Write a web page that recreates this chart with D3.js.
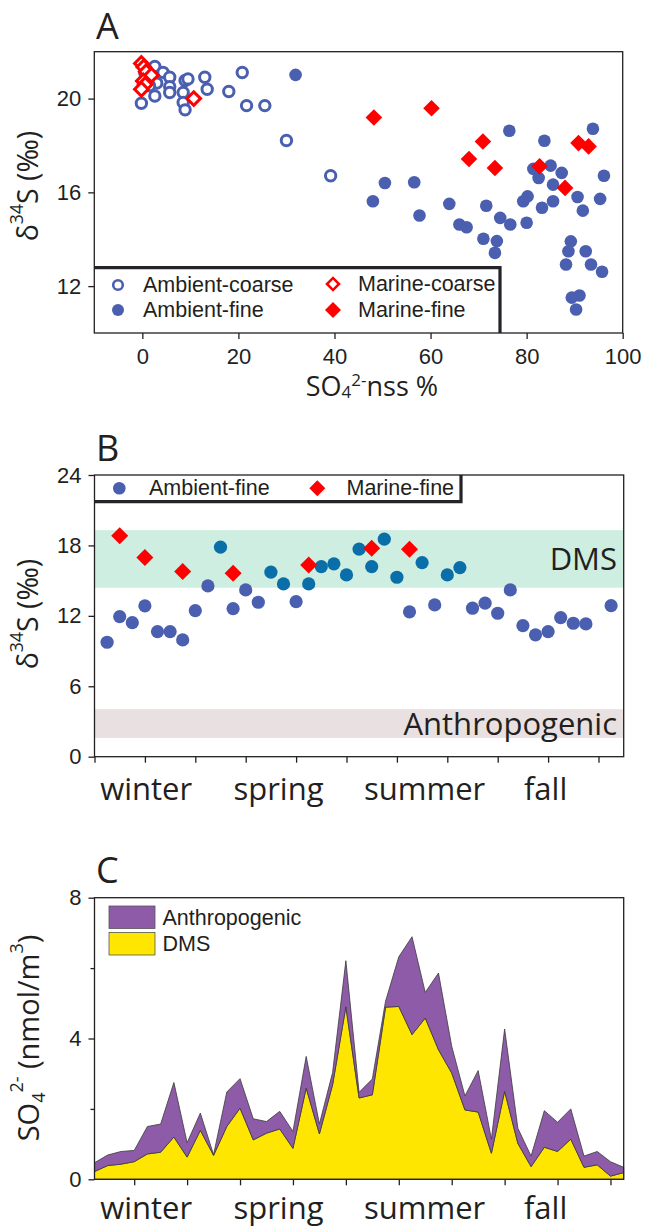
<!DOCTYPE html>
<html>
<head>
<meta charset="utf-8">
<script src="https://cdn.jsdelivr.net/npm/d3@7"></script>
<style>
  body { margin: 0; background: #fff; }
</style>
</head>
<body>
<script>
// ---- panel A : d34S vs nss-sulfate fraction ----
const ambientCoarse = [[2.6, 21.37], [4.3, 21.12], [5.7, 20.91], [3.0, 20.66], [5.7, 20.51], [2.6, 20.11], [5.7, 20.26],
  [-0.2, 19.8], [8.9, 20.77], [9.5, 20.84], [8.5, 20.26], [8.5, 19.83], [8.9, 19.52], [13.0, 20.91], [13.5, 20.4],
  [18.0, 20.3], [20.8, 21.11], [21.7, 19.7], [25.5, 19.7], [30.0, 18.21], [39.2, 16.71], [0.8, 20.9], [1.5, 20.55], [0.5, 21.1]];
const ambientFine = [[50.5, 16.4], [48.0, 15.62], [56.6, 16.43], [57.7, 15.01], [63.9, 15.51], [66.0, 14.63], [67.5, 14.51],
  [71.6, 15.43], [74.5, 14.91], [76.6, 14.63], [76.4, 18.63], [71.0, 14.02], [73.8, 13.92], [73.4, 13.42], [80.0, 14.7],
  [79.3, 15.62], [80.2, 15.83], [83.2, 15.34], [85.5, 15.62], [85.5, 16.33], [83.7, 18.2], [81.4, 17.0], [82.5, 16.61],
  [85.0, 17.14], [87.3, 16.83], [90.6, 15.8], [91.7, 15.22], [93.8, 18.71], [96.1, 16.71], [95.3, 15.72], [89.2, 13.91],
  [88.7, 13.49], [88.2, 12.92], [92.3, 13.49], [93.4, 12.92], [95.7, 12.61], [89.4, 11.51], [91.0, 11.6], [90.3, 11.0],
  [31.9, 21.01]];
const marineCoarse = [[-0.2, 21.5], [0.3, 21.35], [0.8, 21.15], [1.9, 21.0], [0.2, 20.75], [0.6, 20.6], [-0.2, 20.4], [10.7, 20.0]];
const marineFine = [[48.2, 19.19], [60.2, 19.59], [70.9, 18.17], [68.0, 17.42], [73.4, 17.04], [82.7, 17.11], [88.0, 16.19],
  [90.8, 18.1], [92.9, 17.96]];
const xTicksA = [0, 20, 40, 60, 80, 100];
const yTicksA = [12, 16, 20];

// ---- panel B : weekly d34S ----
const weekB = [1, 2, 3, 4, 5, 6, 7, 8, 9, 10, 11, 12, 13, 14, 15, 16, 17, 18, 19, 20, 21, 22, 23, 24, 25, 26, 27, 28, 29, 30,
  31, 32, 33, 34, 35, 36, 37, 38, 39, 41];
const ambientFineB = [9.75, 11.94, 11.42, 12.85, 10.66, 10.66, 9.95, 12.45, 14.55, 17.85, 12.62, 14.21, 13.16, 15.72, 14.72,
  13.21, 14.72, 16.2, 16.43, 15.49, 17.68, 16.2, 18.53, 15.29, 12.34, 16.54, 12.93, 15.49, 16.11, 12.65, 13.08, 12.22,
  14.21, 11.17, 10.38, 10.66, 11.85, 11.37, 11.31, 12.87];
const marineWeekB = [2, 4, 7, 11, 17, 22, 25];
const marineFineB = [18.82, 16.97, 15.77, 15.63, 16.34, 17.77, 17.68];
const dmsBand = [14.4, 19.3];
const anthroBand = [1.6, 4.05];
const yTicksB = [0, 6, 12, 18, 24];
const xTicksB = [0, 4, 8, 12, 16, 20, 24, 28, 32, 36, 40];
const seasons = ["winter", "spring", "summer", "fall"];
const seasonWeek = [4.1, 14.6, 26.2, 35.8];

// ---- panel C : sulfate source apportionment ----
const dmsC = [0.22, 0.39, 0.43, 0.5, 0.72, 0.77, 1.2, 0.63, 1.39, 0.68, 1.5, 2.02, 1.12, 1.31, 1.43, 0.88, 2.59, 1.29, 2.69,
  4.9, 2.31, 2.4, 4.89, 4.91, 4.11, 4.58, 3.68, 3.02, 1.97, 1.91, 0.74, 2.5, 1.02, 0.36, 0.91, 0.79, 1.14, 0.34, 0.41, 0.09, 0.19];
const anthroC = [0.25, 0.3, 0.36, 0.32, 0.78, 0.8, 1.55, 0.41, 0.49, 0.02, 0.98, 0.84, 0.6, 0.33, 0.5, 0.48, 0.9, 0.28, 0.35,
  1.31, 0.16, 0.45, 0.17, 1.41, 2.78, 0.73, 2.18, 0.76, 0.4, 1.18, 0.4, 1.77, 0.43, 0.3, 1.04, 0.83, 0.86, 0.32, 0.38, 0.41, 0.15];
const yTicksC = [0, 4, 8];
const yMinorC = [2, 6];
const xTicksC = [3, 7, 11, 15, 19, 23, 27, 31, 35, 39];

const ink = "#231f20";
const blue = "#4a5fb0";
const teal = "#0a6ea8";
const red = "#ff0000";
const tickFont = "'Liberation Sans', Arial, sans-serif";
const titleFont = "'Open Sans', 'Noto Sans', sans-serif";

const svg = d3.select("body").append("svg").attr("width", 646).attr("height", 1228);

const diamond = d3.symbol().type(d3.symbolSquare);

function frame(x0, x1, y0, y1) {
  svg.append("rect").attr("x", x0).attr("y", y0).attr("width", x1 - x0).attr("height", y1 - y0)
    .attr("fill", "none").attr("stroke", ink).attr("stroke-width", 1.3);
}

function styleAxis(g) {
  g.select(".domain").remove();
  g.selectAll("line").attr("stroke", ink).attr("stroke-width", 1.3);
  g.selectAll("text").attr("fill", ink).style("font-family", tickFont).style("font-size", "22px");
}

// rotated axis title, parts = [text, shift] with shift -1 sup, 1 sub, 0 normal
function yTitle(cx, cy, size, parts) {
  const t = svg.append("text").attr("transform", `translate(${cx},${cy}) rotate(-90)`)
    .attr("text-anchor", "middle").attr("dominant-baseline", "central")
    .attr("fill", ink).style("font-family", titleFont).style("font-size", size + "px");
  let prev = 0;
  parts.forEach(([s, shift]) => {
    const off = shift * size * 0.38;
    t.append("tspan").attr("dy", off - prev).style("font-size", shift ? (size * 0.62) + "px" : null).text(s);
    prev = off;
  });
  return t;
}

function panelLetter(letter, y) {
  svg.append("text").attr("x", 96).attr("y", y).attr("fill", ink)
    .style("font-family", titleFont).style("font-size", "36px").text(letter);
}

// ================= Panel A =================
const xA = d3.scaleLinear().domain([-10, 100]).range([94.3, 622.7]);
const yA = d3.scaleLinear().domain([10, 22]).range([333, 51.7]);

panelLetter("A", 39);

svg.append("g").attr("transform", "translate(0,333)")
  .call(d3.axisBottom(xA).tickValues(xTicksA).tickSize(6).tickPadding(9)).call(styleAxis);
svg.append("g").attr("transform", "translate(94.3,0)")
  .call(d3.axisLeft(yA).tickValues(yTicksA).tickSize(6).tickPadding(7)).call(styleAxis);

svg.append("g").selectAll("circle").data(ambientCoarse).join("circle")
  .attr("cx", d => xA(d[0])).attr("cy", d => yA(d[1])).attr("r", 5.2)
  .attr("fill", "#fff").attr("stroke", blue).attr("stroke-width", 3);
svg.append("g").selectAll("circle").data(ambientFine).join("circle")
  .attr("cx", d => xA(d[0])).attr("cy", d => yA(d[1])).attr("r", 6.3).attr("fill", blue);
svg.append("g").selectAll("path").data(marineCoarse).join("path")
  .attr("transform", d => `translate(${xA(d[0])},${yA(d[1])}) rotate(45)`)
  .attr("d", diamond.size(2 * 6.8 * 6.8)).attr("fill", "#fff").attr("stroke", red).attr("stroke-width", 3);
svg.append("g").selectAll("path").data(marineFine).join("path")
  .attr("transform", d => `translate(${xA(d[0])},${yA(d[1])}) rotate(45)`)
  .attr("d", diamond.size(2 * 8.3 * 8.3)).attr("fill", red);

frame(94.3, 622.7, 51.7, 333);

// legend A
svg.append("path").attr("d", "M94.3,267.7H500V333").attr("fill", "none").attr("stroke", "#222428").attr("stroke-width", 3.2);
const legA = [
  { label: "Ambient-coarse", x: 118, y: 285, kind: "oc" },
  { label: "Ambient-fine", x: 118, y: 310, kind: "fc" },
  { label: "Marine-coarse", x: 333, y: 284, kind: "od" },
  { label: "Marine-fine", x: 333, y: 310, kind: "fd" }
];
legA.forEach(l => {
  if (l.kind === "oc") svg.append("circle").attr("cx", l.x).attr("cy", l.y).attr("r", 4.8).attr("fill", "#fff").attr("stroke", blue).attr("stroke-width", 2.6);
  if (l.kind === "fc") svg.append("circle").attr("cx", l.x).attr("cy", l.y).attr("r", 6).attr("fill", blue);
  if (l.kind === "od") svg.append("path").attr("transform", `translate(${l.x},${l.y}) rotate(45)`).attr("d", diamond.size(2 * 6 * 6)).attr("fill", "#fff").attr("stroke", red).attr("stroke-width", 2.6);
  if (l.kind === "fd") svg.append("path").attr("transform", `translate(${l.x},${l.y}) rotate(45)`).attr("d", diamond.size(2 * 8 * 8)).attr("fill", red);
  svg.append("text").attr("x", l.x + 25).attr("y", l.y).attr("dominant-baseline", "central").attr("fill", ink)
    .style("font-family", tickFont).style("font-size", "21.5px").text(l.label);
});

yTitle(27, 186, 28.5, [["δ", 0], ["34", -1], ["S (‰)", 0]]);
const xtA = svg.append("text").attr("x", 372).attr("y", 396).attr("text-anchor", "middle").attr("fill", ink)
  .style("font-family", titleFont).style("font-size", "27px");
xtA.append("tspan").text("SO");
xtA.append("tspan").attr("dy", 2).style("font-size", "17px").text("4");
xtA.append("tspan").attr("dy", -12).style("font-size", "17px").text("2-");
xtA.append("tspan").attr("dy", 10).text("nss %");

// ================= Panel B =================
const xB = d3.scaleLinear().domain([0, 42]).range([94.5, 623.7]);
const yB = d3.scaleLinear().domain([0, 24]).range([756.7, 475]);

panelLetter("B", 461);

svg.append("rect").attr("x", xB(0)).attr("width", xB(42) - xB(0))
  .attr("y", yB(dmsBand[1])).attr("height", yB(dmsBand[0]) - yB(dmsBand[1])).attr("fill", "#cdeee0");
svg.append("rect").attr("x", xB(0)).attr("width", xB(42) - xB(0))
  .attr("y", yB(anthroBand[1])).attr("height", yB(anthroBand[0]) - yB(anthroBand[1])).attr("fill", "#e9e1e1");
svg.append("text").attr("x", 617).attr("y", 570).attr("text-anchor", "end").attr("fill", ink)
  .style("font-family", titleFont).style("font-size", "31px").text("DMS");
svg.append("text").attr("x", 617).attr("y", 735).attr("text-anchor", "end").attr("fill", ink)
  .style("font-family", titleFont).style("font-size", "31px").text("Anthropogenic");

svg.append("g").attr("transform", "translate(0,756.7)")
  .call(d3.axisBottom(xB).tickValues(xTicksB).tickSize(6).tickFormat("")).call(styleAxis);
svg.append("g").attr("transform", "translate(94.5,0)")
  .call(d3.axisLeft(yB).tickValues(yTicksB).tickSize(6).tickPadding(7)).call(styleAxis);

svg.append("g").selectAll("circle").data(weekB).join("circle")
  .attr("cx", d => xB(d)).attr("cy", (d, i) => yB(ambientFineB[i])).attr("r", 6.6)
  .attr("fill", (d, i) => ambientFineB[i] >= 14.6 ? teal : blue);
svg.append("g").selectAll("path").data(marineWeekB).join("path")
  .attr("transform", (d, i) => `translate(${xB(d)},${yB(marineFineB[i])}) rotate(45)`)
  .attr("d", diamond.size(2 * 8.5 * 8.5)).attr("fill", red);

frame(94.5, 623.7, 475, 756.7);

// legend B
svg.append("path").attr("d", "M94.5,501.7H461V475").attr("fill", "none").attr("stroke", "#222428").attr("stroke-width", 3.2);
svg.append("circle").attr("cx", 119.3).attr("cy", 488.3).attr("r", 6.3).attr("fill", blue);
svg.append("text").attr("x", 149).attr("y", 488.3).attr("dominant-baseline", "central").attr("fill", ink)
  .style("font-family", tickFont).style("font-size", "21.5px").text("Ambient-fine");
svg.append("path").attr("transform", "translate(317.3,488.3) rotate(45)").attr("d", diamond.size(2 * 8 * 8)).attr("fill", red);
svg.append("text").attr("x", 346.5).attr("y", 488.3).attr("dominant-baseline", "central").attr("fill", ink)
  .style("font-family", tickFont).style("font-size", "21.5px").text("Marine-fine");

yTitle(27, 614, 28.5, [["δ", 0], ["34", -1], ["S (‰)", 0]]);

function seasonLabels(baseline) {
  svg.append("g").selectAll("text").data(seasons).join("text")
    .attr("x", (d, i) => xB(seasonWeek[i])).attr("y", baseline).attr("text-anchor", "middle").attr("fill", ink)
    .style("font-family", titleFont).style("font-size", "31px").text(d => d);
}
seasonLabels(800);

// ================= Panel C =================
const xC = d3.scaleLinear().domain([0, 40]).range([94.5, 623.7]);
const yC = d3.scaleLinear().domain([0, 8]).range([1179.3, 897.7]);

panelLetter("C", 883);

const rowsC = dmsC.map((v, i) => ({ i, dms: v, anthro: anthroC[i] }));
const stackC = d3.stack().keys(["dms", "anthro"])(rowsC);
const areaC = d3.area().x(d => xC(d.data.i)).y0(d => yC(d[0])).y1(d => yC(d[1]));
const fillC = { dms: "#ffe600", anthro: "#8e5ba8" };
svg.append("g").selectAll("path").data(stackC).join("path")
  .attr("d", areaC).attr("fill", d => fillC[d.key]).attr("stroke", "#3a3a3a").attr("stroke-width", 0.8);

svg.append("g").attr("transform", "translate(0,1179.3)")
  .call(d3.axisBottom(xC).tickValues(xTicksC).tickSize(6).tickFormat("")).call(styleAxis);
svg.append("g").attr("transform", "translate(94.5,0)")
  .call(d3.axisLeft(yC).tickValues(yTicksC).tickSize(6).tickPadding(7)).call(styleAxis);
svg.append("g").attr("transform", "translate(94.5,0)")
  .call(d3.axisLeft(yC).tickValues(yMinorC).tickSize(4).tickFormat("")).call(styleAxis);

frame(94.5, 623.7, 897.7, 1179.3);

// legend C
[["Anthropogenic", "#8e5ba8", 906], ["DMS", "#ffe600", 932.5]].forEach(([label, col, y]) => {
  svg.append("rect").attr("x", 109).attr("y", y).attr("width", 46).attr("height", 22.5)
    .attr("fill", col).attr("stroke", "#555").attr("stroke-width", 0.8);
  svg.append("text").attr("x", 162.5).attr("y", y + 11.5).attr("dominant-baseline", "central").attr("fill", ink)
    .style("font-family", tickFont).style("font-size", "21.5px").text(label);
});

yTitle(27, 1038, 29, [["SO", 0], ["4", 1], ["2-", -1], [" (nmol/m", 0], ["3", -1], [")", 0]]);
seasonLabels(1219);
</script>
</body>
</html>
